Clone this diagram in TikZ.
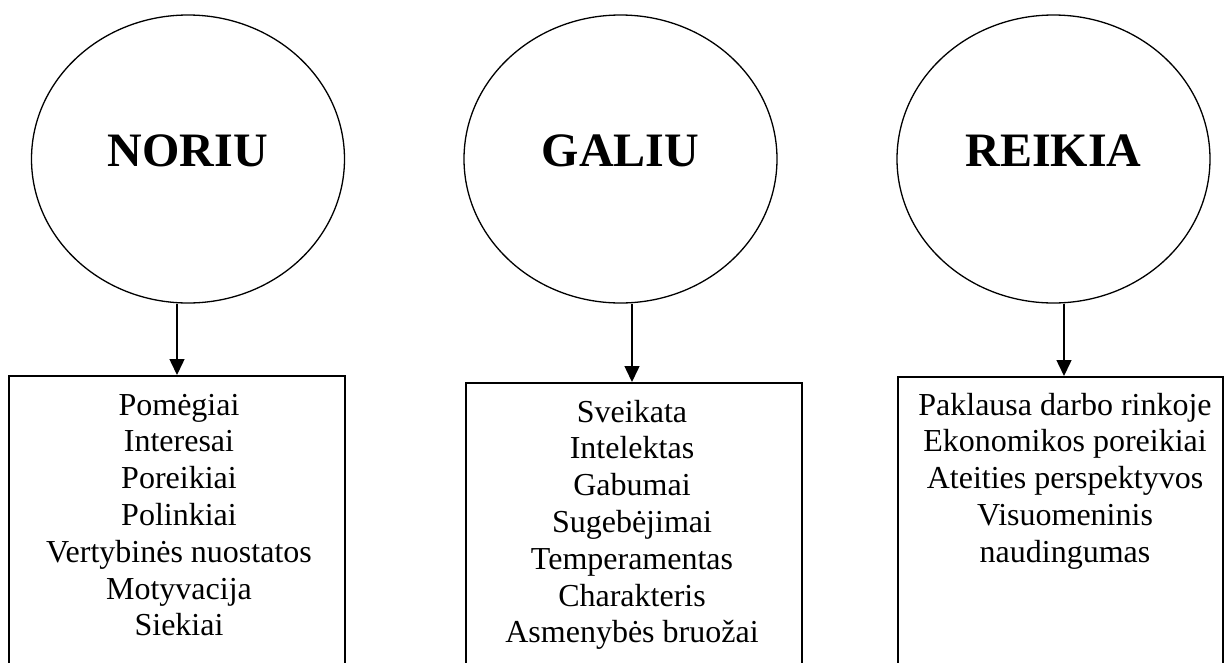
\documentclass[tikz,border=0pt]{standalone}
\usepackage{fontspec}
\setmainfont{Liberation Serif}
\usetikzlibrary{shapes.geometric,arrows.meta}
\begin{document}
\begin{tikzpicture}[x=1pt,y=-1pt,
  oval/.style={ellipse,draw,line width=1.3pt,minimum width=313pt,minimum height=288pt,inner sep=0pt},
  title/.style={font=\fontsize{48}{56}\selectfont\bfseries,anchor=base},
  listbox/.style={draw,line width=1.5pt,rectangle,inner sep=0pt,anchor=north west},
  listtext/.style={font=\fontsize{32}{36.8}\selectfont,anchor=base,inner sep=0pt},
  arr/.style={line width=1.5pt,-{Triangle[length=16pt,width=15pt]}}]
\useasboundingbox (0,0) rectangle (1224,662);
\fill[white] (0,0) rectangle (1224,662);
% circles
\node[oval] (c1) at (188,159) {};
\node[oval] (c2) at (620.5,159) {};
\node[oval] (c3) at (1053.5,159) {};
\node[title] (n1) at (188,166) {NORIU};
\node[title] (n2) at (620.5,166) {GALIU};
\node[title] (n3) at (1053.5,166) {REIKIA};
% boxes
\node[listbox,minimum width=336pt,minimum height=330pt] (b1) at (8,375) {};
\node[listbox,minimum width=336pt,minimum height=330pt] (b2) at (465,382) {};
\node[listbox,minimum width=325pt,minimum height=330pt] (b3) at (897,376) {};
% texts
\node[listtext] (t1) at (179,415) {\begin{tabular}[t]{@{}c@{}}Pomėgiai\\ Interesai\\ Poreikiai\\ Polinkiai\\ Vertybinės nuostatos\\ Motyvacija\\ Siekiai\end{tabular}};
\node[listtext] (t2) at (632,422) {\begin{tabular}[t]{@{}c@{}}Sveikata\\ Intelektas\\ Gabumai\\ Sugebėjimai\\ Temperamentas\\ Charakteris\\ Asmenybės bruožai\end{tabular}};
\node[listtext] (t3) at (1065,415) {\begin{tabular}[t]{@{}c@{}}Paklausa darbo rinkoje\\ Ekonomikos poreikiai\\ Ateities perspektyvos\\ Visuomeninis\\ naudingumas\end{tabular}};
% arrows
\coordinate (a1) at (177,0);
\coordinate (a2) at (632,0);
\coordinate (a3) at (1064,0);
\draw[arr] (c1.south -| a1) -- (b1.north -| a1);
\draw[arr] (c2.south -| a2) -- (b2.north -| a2);
\draw[arr] (c3.south -| a3) -- (b3.north -| a3);
\end{tikzpicture}
\end{document}
